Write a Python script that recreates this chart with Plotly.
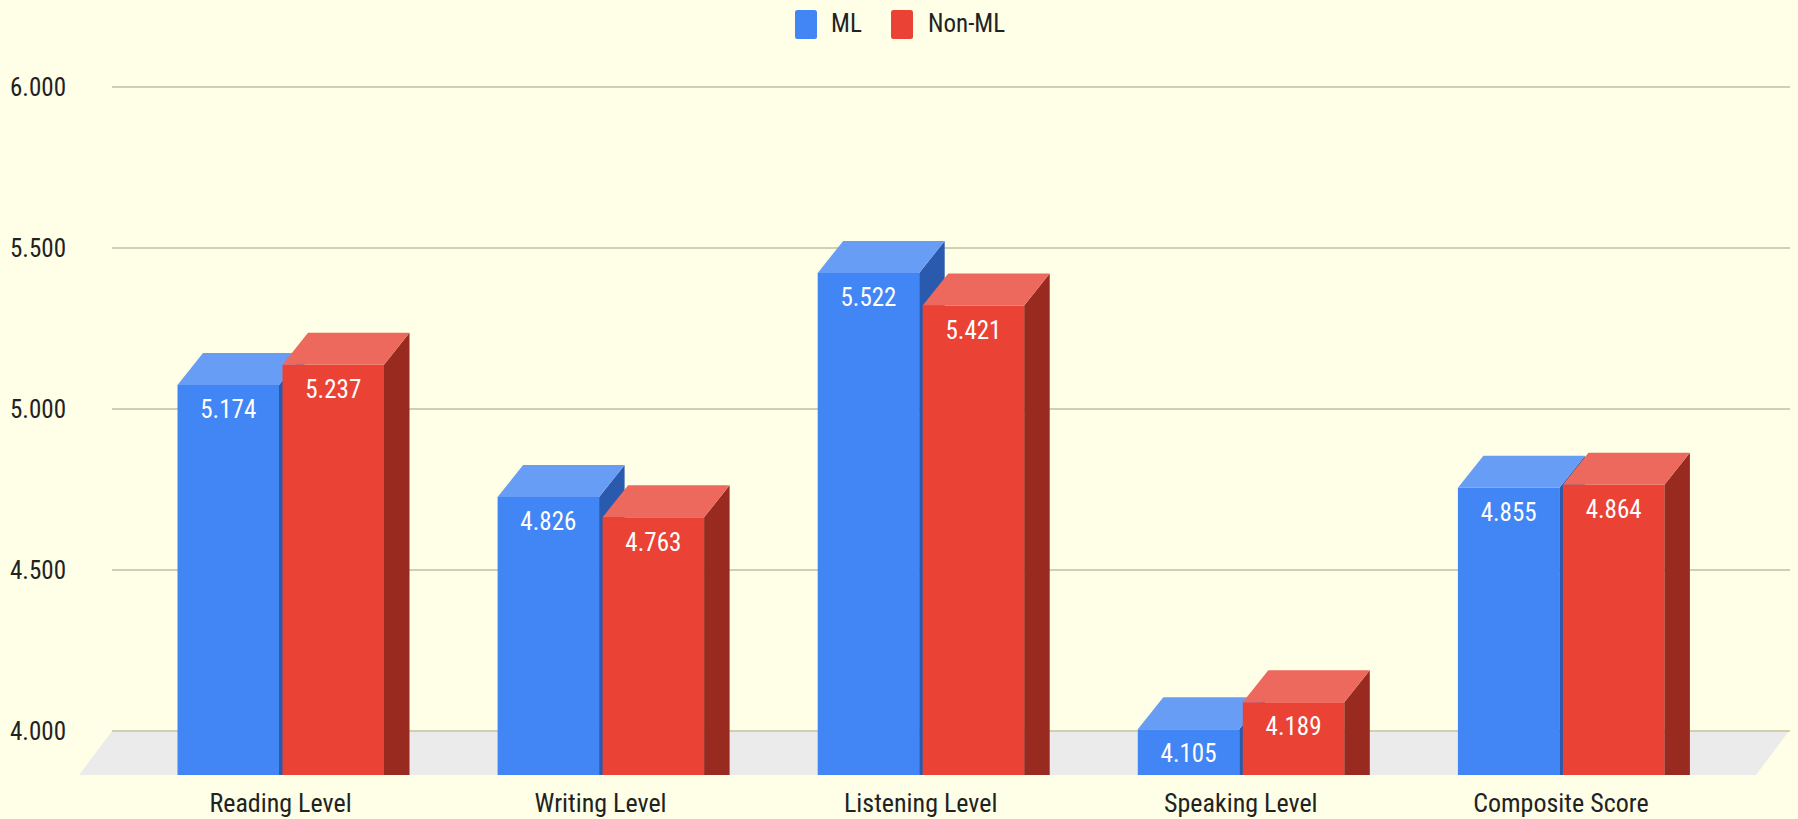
import plotly.graph_objects as go

categories = ["Reading Level", "Writing Level", "Listening Level", "Speaking Level", "Composite Score"]
ml_values = [5.174, 4.826, 5.522, 4.105, 4.855]
non_ml_values = [5.237, 4.763, 5.421, 4.189, 4.864]
y_ticks = [4.0, 4.5, 5.0, 5.5, 6.0]
y_tick_labels = ["4.000", "4.500", "5.000", "5.500", "6.000"]

W, H = 1798, 819
ML, MR, MT, MB = 112, 8, 85, 44
PX_PER_X = 320.1
PX_PER_Y = 322.0
X0_PX = 280.5
Y4_PX = 731.0

BG = "#FEFFE6"
FONT = "'Liberation Sans Narrow', 'Roboto Condensed', Roboto, sans-serif"
TXT = "#222222"
FS = 25

plot_w = W - ML - MR
plot_h = H - MT - MB
x_range = [(ML - X0_PX) / PX_PER_X, (W - MR - X0_PX) / PX_PER_X]
y_range = [4 - (H - MB - Y4_PX) / PX_PER_Y, 4 + (Y4_PX - MT) / PX_PER_Y]
base_val = y_range[0]

depth_x = 25.5 / PX_PER_X
depth_y = 32 / PX_PER_Y
bar_w = 101.5 / PX_PER_X
ml_off = -103 / PX_PER_X
red_off = 2 / PX_PER_X
label_drop = 27 / PX_PER_Y


def series(name, values, offset, front, top, side, xa, ya):
    traces = []
    tops = [v - depth_y for v in values]
    traces.append(go.Bar(
        x=list(range(len(values))), y=[t - base_val for t in tops], base=base_val,
        width=bar_w, offset=offset, name=name, marker=dict(color=front, line=dict(width=0)),
        showlegend=False, xaxis=xa, yaxis=ya, customdata=values,
        hovertemplate="%{x}: %{customdata:.3f}<extra>" + name + "</extra>",
    ))
    sx, sy, tx, ty = [], [], [], []
    for i, t in enumerate(tops):
        xl = i + offset
        xr = xl + bar_w
        sx += [xr, xr + depth_x, xr + depth_x, xr, None]
        sy += [base_val, base_val, t + depth_y, t, None]
        tx += [xl, xr, xr + depth_x, xl + depth_x, None]
        ty += [t, t, t + depth_y, t + depth_y, None]
    for px, py, col in ((sx, sy, side), (tx, ty, top)):
        traces.append(go.Scatter(
            x=px, y=py, mode="lines", fill="toself", fillcolor=col,
            line=dict(width=0, color=col), showlegend=False, hoverinfo="skip",
            xaxis=xa, yaxis=ya,
        ))
    traces.append(go.Scatter(
        x=[i + offset + bar_w / 2 for i in range(len(values))],
        y=[t - label_drop for t in tops],
        mode="text", text=[f"{v:.3f}" for v in values],
        textfont=dict(family=FONT, size=FS, color="#FFFFFF"),
        showlegend=False, hoverinfo="skip", xaxis=xa, yaxis=ya,
    ))
    return traces


fig = go.Figure()
fig.add_traces(series("ML", ml_values, ml_off, "#4285F4", "#689DF6", "#2A5AAE", "x", "y"))
fig.add_traces(series("Non-ML", non_ml_values, red_off, "#EA4335", "#EE695D", "#982A20", "x2", "y2"))


def px_x(p):
    return (p - ML) / plot_w


def px_y(p):
    return (H - MB - p) / plot_h


def swatch(x0, x1, y0, y1, r, col):
    a, b = px_x(x0), px_x(x1)
    ra, rb = px_x(x0 + r), px_x(x1 - r)
    c, d = px_y(y0), px_y(y1)
    rc, rd = px_y(y0 + r), px_y(y1 - r)
    path = (f"M{ra},{c} L{rb},{c} Q{b},{c} {b},{rc} L{b},{rd} Q{b},{d} {rb},{d} "
            f"L{ra},{d} Q{a},{d} {a},{rd} L{a},{rc} Q{a},{c} {ra},{c} Z")
    return dict(type="path", path=path, xref="paper", yref="paper",
                fillcolor=col, line=dict(width=0), layer="above")


floor_path = (f"M{px_x(79)},{px_y(775)} L{px_x(112)},{px_y(Y4_PX)} "
              f"L{px_x(1789)},{px_y(Y4_PX)} L{px_x(1756)},{px_y(775)} Z")
shapes = [
    dict(type="path", path=floor_path, xref="paper", yref="paper",
         fillcolor="#EBEBEB", line=dict(width=0), layer="below"),
    swatch(795, 817, 10, 39, 2.5, "#4285F4"),
    swatch(891, 913, 10, 39, 2.5, "#EA4335"),
]
annotations = [
    dict(text=t, x=px_x(xp), y=px_y(23.5), xref="paper", yref="paper", xanchor="left",
         yanchor="middle", showarrow=False, font=dict(family=FONT, size=FS, color=TXT))
    for t, xp in (("ML", 829), ("Non-ML", 925.5))
]

fig.update_layout(
    width=W, height=H, autosize=False,
    margin=dict(l=ML, r=MR, t=MT, b=MB, pad=0, autoexpand=False),
    paper_bgcolor=BG, plot_bgcolor=BG,
    barmode="overlay", showlegend=False,
    shapes=shapes, annotations=annotations,
    font=dict(family=FONT, color=TXT, size=FS),
    xaxis=dict(range=x_range, tickmode="array", tickvals=list(range(len(categories))),
               ticktext=categories, showgrid=False, zeroline=False, showline=False,
               automargin=False,
               ticks="outside", ticklen=5, tickcolor="rgba(0,0,0,0)",
               tickfont=dict(family=FONT, size=26, color=TXT)),
    yaxis=dict(range=y_range, tickmode="array", tickvals=y_ticks, ticktext=y_tick_labels,
               showgrid=True, gridcolor="#CFCFB2", gridwidth=2, zeroline=False, showline=False,
               automargin=False,
               ticks="outside", ticklen=40, tickcolor="rgba(0,0,0,0)",
               tickfont=dict(family=FONT, size=FS, color=TXT)),
    xaxis2=dict(range=x_range, overlaying="x", visible=False),
    yaxis2=dict(range=y_range, overlaying="y", visible=False),
)

fig.write_html("out.html", config=dict(displayModeBar=False),
               post_script="document.body.style.margin='0';document.body.style.overflow='hidden';")
